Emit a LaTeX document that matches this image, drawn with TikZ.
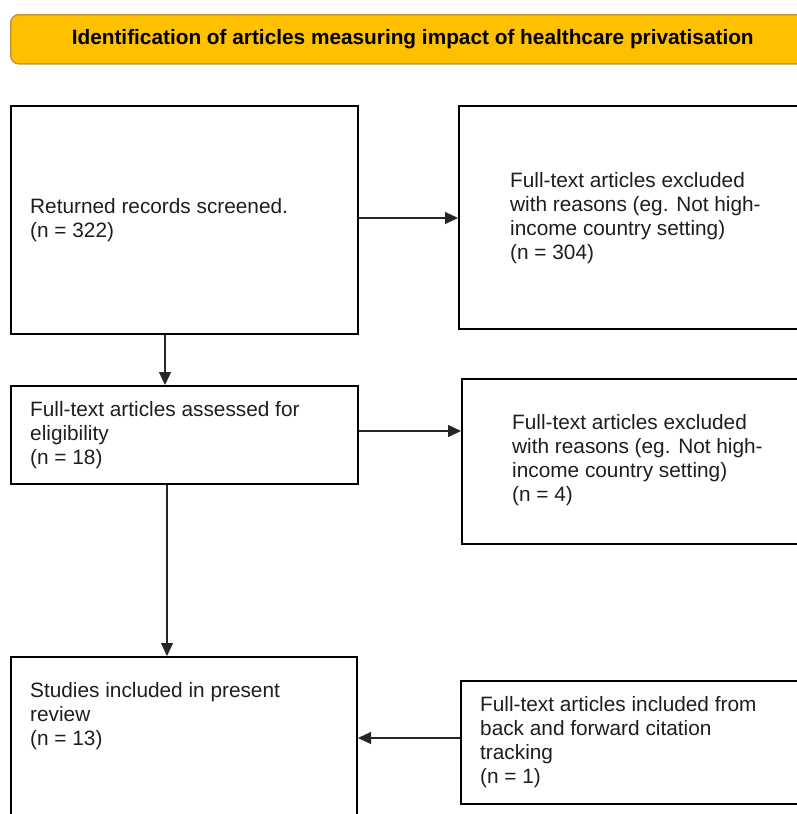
\documentclass[tikz,border=0pt]{standalone}
\usepackage{fontspec}
\setmainfont{Liberation Sans}
\usetikzlibrary{arrows.meta}
\definecolor{hdrfill}{HTML}{FFC000}
\definecolor{hdrline}{HTML}{C09A3A}
\definecolor{txt}{HTML}{1E1E1E}
\tikzset{
  boxnode/.style={draw=black, line width=2pt, inner sep=0pt, anchor=north west, fill=none},
  lbl/.style={anchor=west, align=left, inner sep=0pt, text=txt, font=\fontsize{20.8}{24.2}\selectfont},
  hdr/.style={draw=hdrline, line width=1.5pt, fill=hdrfill, rounded corners=8pt, anchor=north west, inner sep=0pt, text=black, font=\fontsize{20.8}{24.2}\selectfont\bfseries},
  conn/.style={draw=black!85, line width=1.2pt, -{Triangle[length=13pt,width=12pt]}}
}
\begin{document}
\begin{tikzpicture}[x=1pt,y=1pt]
\useasboundingbox (0,0) rectangle (797,-814);
\clip (0,0) rectangle (797,-814);
\node[hdr, minimum width=804pt, minimum height=49pt] (head) at (10,-14) {Identification of articles measuring impact of healthcare privatisation};
% boxes
\node[boxnode, minimum width=347pt, minimum height=228pt] (b1) at (10,-105) {};
\node[boxnode, minimum width=360pt, minimum height=223pt] (b2) at (458,-105) {};
\node[boxnode, minimum width=347pt, minimum height=98pt] (b3) at (10,-385) {};
\node[boxnode, minimum width=360pt, minimum height=165pt] (b4) at (461,-378) {};
\node[boxnode, minimum width=346pt, minimum height=180pt] (b5) at (10,-656) {};
\node[boxnode, minimum width=360pt, minimum height=123pt] (b6) at (460,-680) {};
% texts
\node[lbl] (t1) at (30,-220) {Returned records screened.\\(n = 322)};
\node[lbl] (t2) at (510,-218) {Full-text articles excluded\\with reasons (eg. Not high-\\income country setting)\\(n = 304)};
\node[lbl] (t3) at (30,-435) {Full-text articles assessed for\\eligibility\\(n = 18)};
\node[lbl] (t4) at (512,-460) {Full-text articles excluded\\with reasons (eg. Not high-\\income country setting)\\(n = 4)};
\node[lbl] (t5) at (30,-716) {Studies included in present\\review\\(n = 13)};
\node[lbl] (t6) at (480,-742) {Full-text articles included from\\back and forward citation\\tracking\\(n = 1)};
% helper coordinates
\coordinate (x1) at (165,0);
\coordinate (x2) at (167,0);
\coordinate (y1) at (0,-218);
\coordinate (y2) at (0,-431);
\coordinate (y3) at (0,-738);
% connectors
\draw[conn] (b1.east |- y1) -- (b2.west |- y1);
\draw[conn] (b1.south -| x1) -- (b3.north -| x1);
\draw[conn] (b3.east |- y2) -- (b4.west |- y2);
\draw[conn] (b3.south -| x2) -- (b5.north -| x2);
\draw[conn] (b6.west |- y3) -- (b5.east |- y3);
\end{tikzpicture}
\end{document}
